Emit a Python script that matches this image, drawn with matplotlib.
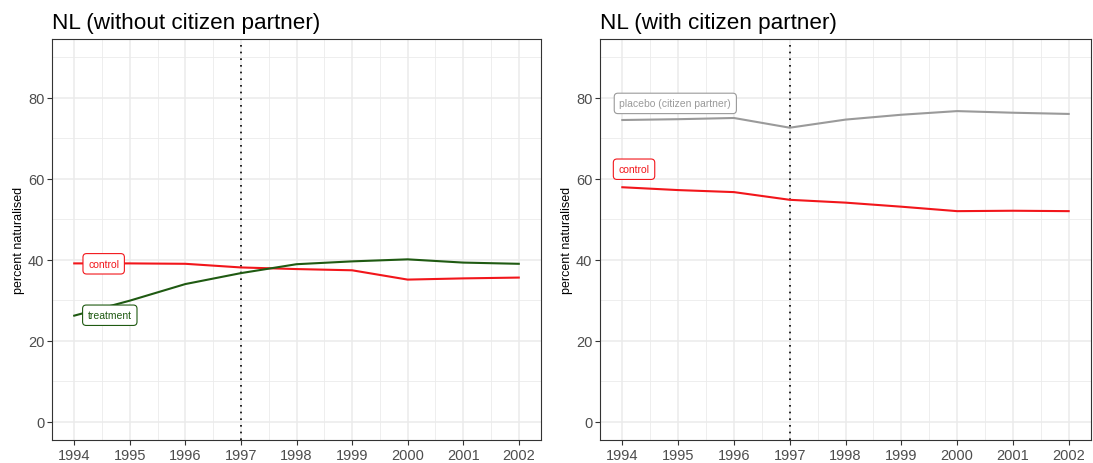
import matplotlib
matplotlib.use("Agg")
import matplotlib.pyplot as plt
import numpy as np

plt.rcParams['font.family'] = ['Liberation Sans', 'DejaVu Sans']

years = [1994, 1995, 1996, 1997, 1998, 1999, 2000, 2001, 2002]
left_control = [39.1, 39.1, 39.0, 38.1, 37.7, 37.4, 35.1, 35.4, 35.6]
left_treatment = [26.2, 29.9, 34.0, 36.7, 38.9, 39.6, 40.1, 39.3, 39.0]
right_placebo = [74.5, 74.7, 75.0, 72.6, 74.6, 75.8, 76.7, 76.3, 76.0]
right_control = [57.9, 57.2, 56.7, 54.8, 54.1, 53.1, 52.0, 52.1, 52.0]
titles = ["NL (without citizen partner)", "NL (with citizen partner)"]
ylabel = "percent naturalised"
yticks = [0, 20, 40, 60, 80]

RED = "#F2161B"
GREEN = "#1F5A12"
GRAY = "#9A9A9A"

fig = plt.figure(figsize=(10.93, 4.64), dpi=100)
W, H = 1093, 464
def ax_at(x0, x1, y0, y1):
    return fig.add_axes([x0 / W, (H - y1) / H, (x1 - x0) / W, (y1 - y0) / H])

axL = ax_at(52, 541, 40, 441)
axR = ax_at(600, 1091, 40, 441)

def style(ax, title):
    ax.set_xlim(1993.6, 2002.4)
    ax.set_ylim(-4.5, 94.5)
    ax.set_xticks(years)
    ax.set_xticklabels([str(y) for y in years])
    ax.set_xticks(np.arange(1994.5, 2002, 1.0), minor=True)
    ax.set_yticks(yticks)
    ax.set_yticks([10, 30, 50, 70, 90], minor=True)
    ax.grid(True, which='major', color='#EBEBEB', lw=1.1)
    ax.grid(True, which='minor', color='#EBEBEB', lw=0.6)
    ax.set_axisbelow(True)
    for s in ax.spines.values():
        s.set_color('#333333')
        s.set_linewidth(0.8)
    ax.tick_params(which='major', length=3.5, width=0.8, color='#333333',
                   labelcolor='#4D4D4D', labelsize=10.5, pad=2)
    ax.tick_params(which='minor', length=0)
    ax.set_ylabel(ylabel, fontsize=9, color='black', labelpad=2)
    ax.set_title(title, loc='left', fontsize=16.2, pad=8)
    ax.axvline(1997, color='black', ls=(0, (1, 3)), lw=1.2)

def label(ax, x, y, text, color):
    ax.text(x, y, text, fontsize=7.5, color=color, ha='center', va='center',
            bbox=dict(boxstyle='round,pad=0.5,rounding_size=0.35', fc='white',
                      ec=color, lw=0.8), zorder=5)

style(axL, titles[0])
axL.plot(years, left_control, color=RED, lw=1.5)
axL.plot(years, left_treatment, color=GREEN, lw=1.5)
label(axL, 1994.53, 39.0, "control", RED)
label(axL, 1994.64, 26.3, "treatment", GREEN)

style(axR, titles[1])
axR.plot(years, right_placebo, color=GRAY, lw=1.5)
axR.plot(years, right_control, color=RED, lw=1.5)
label(axR, 1994.95, 78.6, "placebo (citizen partner)", GRAY)
label(axR, 1994.21, 62.35, "control", RED)

fig.savefig("out.png", dpi=100)
